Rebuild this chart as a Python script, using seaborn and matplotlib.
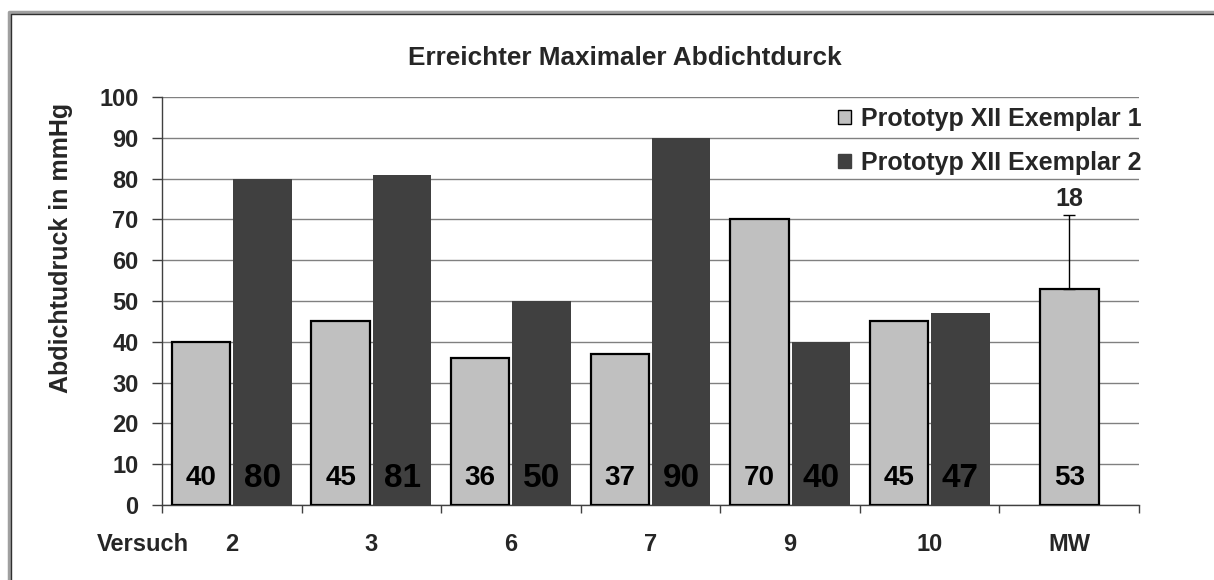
import numpy as np
import pandas as pd
import seaborn as sns
import matplotlib.pyplot as plt
from matplotlib.colors import to_rgb
from matplotlib.patches import Patch
from matplotlib.lines import Line2D

# Daten
versuche = ["2", "3", "6", "7", "9", "10", "MW"]
exemplar_1 = [40, 45, 36, 37, 70, 45]
exemplar_2 = [80, 81, 50, 90, 40, 47]
mw_wert = 53
mw_sd = 18
serien = ["Prototyp XII Exemplar 1", "Prototyp XII Exemplar 2"]

light = "#c0c0c0"
dark = "#404040"

df = pd.DataFrame({
    "Versuch": versuche[:-1] * 2,
    "Serie": [serien[0]] * 6 + [serien[1]] * 6,
    "Wert": exemplar_1 + exemplar_2,
})
df_mw = pd.DataFrame({"Versuch": ["MW"], "Wert": [mw_wert]})

sns.set_theme(style="white")
plt.rcParams["font.family"] = ["Liberation Sans", "DejaVu Sans"]
plt.rcParams["font.weight"] = "bold"

fig = plt.figure(figsize=(12.14, 5.80), dpi=100)
ax = fig.add_axes([162 / 1214, 1 - 505 / 580, 977 / 1214, 408 / 580])

sns.barplot(data=df, x="Versuch", y="Wert", hue="Serie", order=versuche,
            hue_order=serien, palette=[light, dark], width=0.88, gap=0.05,
            ax=ax, legend=False, saturation=1)
sns.barplot(data=df_mw, x="Versuch", y="Wert", order=versuche, color=light,
            width=0.42, ax=ax, saturation=1)


def is_light(p):
    return np.allclose(p.get_facecolor()[:3], to_rgb(light))


# Rahmen der Balken: hell mit schwarzem Rand, dunkel ohne
for p in ax.patches:
    if is_light(p):
        p.set_edgecolor("black")
        p.set_linewidth(1.6)
    else:
        p.set_linewidth(0)
    p.set_zorder(3)

# Werte unten in die Balken schreiben
for container in ax.containers:
    for rect, v in zip(container.patches, container.datavalues):
        if np.isnan(v):
            continue
        ax.text(rect.get_x() + rect.get_width() / 2, 6.5, f"{v:.0f}",
                ha="center", va="center", fontsize=20 if is_light(rect) else 24,
                fontweight="bold", color="black", zorder=5)

# Standardabweichung MW
ax.errorbar(6, mw_wert, yerr=[[0], [mw_sd]], fmt="none", ecolor="black",
            elinewidth=1, capsize=4, capthick=1, zorder=4)
ax.text(6, 75, f"{mw_sd}", ha="center", va="center",
        fontsize=18, fontweight="bold")

ax.set_ylim(0, 100)
ax.set_xlim(-0.5, 6.5)
ax.set_yticks(range(0, 101, 10))
ax.yaxis.grid(True, color="#808080", linewidth=1)
ax.set_axisbelow(True)

ax.set_xticks(range(len(versuche)))
ax.set_xticklabels(versuche, fontsize=17, fontweight="bold")
ax.set_xticks(np.arange(-0.5, 7, 1), minor=True)
ax.tick_params(axis="x", which="major", length=0, pad=20)
ax.tick_params(axis="x", which="minor", length=6, width=1, color="#404040",
               direction="out", bottom=True)
ax.tick_params(axis="y", length=7, width=1, color="#404040", left=True,
               direction="out", pad=10, labelsize=17)
for lab in ax.get_yticklabels():
    lab.set_fontweight("bold")

for s in ["top", "right"]:
    ax.spines[s].set_visible(False)
for s in ["left", "bottom"]:
    ax.spines[s].set_color("#404040")
    ax.spines[s].set_linewidth(1)

ax.set_xlabel("")
ax.set_ylabel("Abdichtudruck in mmHg", fontsize=18, fontweight="bold")
ax.yaxis.set_label_coords(-0.091, 0.63)
ax.text(-0.02, -0.098, "Versuch", transform=ax.transAxes, ha="center",
        va="center", fontsize=17, fontweight="bold")

fig.text(625 / 1214, 1 - 58 / 580, "Erreichter Maximaler Abdichtdurck",
         ha="center", va="center", fontsize=18.8, fontweight="bold")

handles = [Patch(facecolor=light, edgecolor="black", linewidth=1),
           Patch(facecolor=dark, edgecolor=dark, linewidth=1)]
ax.legend(handles, serien, loc="upper left", bbox_to_anchor=(0.692, 0.975),
          frameon=False, borderaxespad=0, borderpad=0,
          prop={"weight": "bold", "size": 18}, handlelength=0.5,
          handleheight=0.5, handletextpad=0.4, labelspacing=0.8)

# Rahmen des Diagramms (nur links und oben sichtbar)
fig.add_artist(Line2D([9 / 1214, 9 / 1214, 1.0], [0, 1 - 12 / 580, 1 - 12 / 580],
                      transform=fig.transFigure, color="#a0a0a0", linewidth=2.5))
fig.add_artist(Line2D([11 / 1214, 11 / 1214, 1.0], [0, 1 - 14 / 580, 1 - 14 / 580],
                      transform=fig.transFigure, color="#303030", linewidth=1))

fig.savefig("out.png", dpi=100, facecolor="white")
